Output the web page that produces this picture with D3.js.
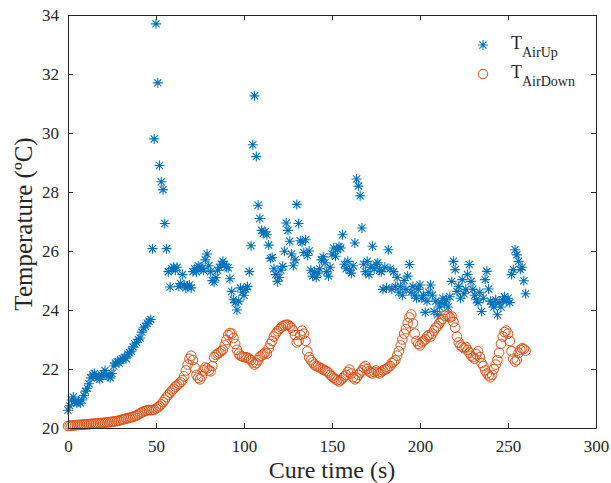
<!DOCTYPE html>
<html>
<head>
<meta charset="utf-8">
<script src="https://cdn.jsdelivr.net/npm/d3@7"></script>
<style>
body { margin: 0; background: #fff; }
svg { display: block; font-family: "Liberation Serif", "Times New Roman", serif; }
</style>
</head>
<body>
<svg id="chart" width="611" height="483"></svg>
<script>
const width = 611;
const height = 483;

const BLUE = "#0072BD";
const ORANGE = "#D95319";
const AXIS = "#262626";

// cure time axis, logged at 1 Hz
const cureTime = d3.range(0, 261);

// T_AirUp (star markers)
const airUp = [
    20.60, 20.75, 20.95, 21.05, 20.90, 20.85, 20.90, 20.85, 20.95, 21.10,
    21.25, 21.35, 21.50, 21.70, 21.80, 21.85, 21.75, 21.70, 21.65, 21.80,
    21.85, 21.95, 21.80, 21.75, 21.70, 21.85, 22.10, 22.20, 22.25, 22.20,
    22.30, 22.35, 22.40, 22.35, 22.50, 22.55, 22.60, 22.75, 22.85, 22.90,
    23.00, 23.05, 23.25, 23.40, 23.45, 23.55, 23.62, 23.68, 26.08, 29.80,
    33.70, 31.70, 28.90, 28.35, 28.08, 26.93, 26.08, 25.30, 24.78, 25.40,
    25.45, 25.35, 25.45, 24.80, 24.90, 25.20, 24.85, 24.75, 24.80, 24.85,
    24.75, 25.30, 25.40, 25.30, 25.50, 25.45, 25.40, 25.35, 25.70, 25.90,
    25.50, 25.30, 25.00, 24.95, 25.10, 25.35, 25.45, 25.55, 25.65, 25.55,
    25.45, 25.43, 25.06, 24.63, 24.35, 24.25, 24.00, 24.30, 24.75, 24.60,
    24.50, 24.70, 24.80, 25.30, 26.18, 29.60, 31.26, 29.20, 27.55, 27.10,
    26.70, 26.60, 26.65, 26.55, 26.20, 25.75, 25.78, 25.40, 25.20, 24.97,
    25.10, 25.35, 25.48, 25.99, 26.95, 26.70, 26.33, 25.90, 25.50, 25.70,
    27.58, 26.93, 26.35, 26.30, 25.95, 26.38, 25.85, 26.00, 25.35, 25.15,
    25.30, 25.10, 25.25, 25.40, 25.70, 25.80, 25.60, 25.30, 25.15, 25.45,
    25.90, 26.10, 25.82, 26.05, 26.15, 26.10, 26.55, 25.55, 25.40, 25.65,
    25.35, 25.25, 25.50, 26.27, 28.44, 28.20, 27.87, 26.78, 25.55, 25.30,
    25.65, 25.20, 25.45, 26.16, 25.40, 25.55, 25.60, 25.35, 25.30, 24.70,
    25.45, 24.75, 26.04, 25.40, 24.70, 25.30, 24.80, 25.10, 24.60, 24.80,
    24.50, 25.00, 24.70, 25.15, 25.54, 24.60, 24.80, 24.50, 24.40, 24.70,
    24.85, 24.40, 24.50, 23.92, 24.30, 24.60, 24.85, 24.50, 23.95, 24.30,
    23.84, 24.10, 24.25, 24.40, 24.20, 24.35, 24.10, 24.45, 24.97, 25.65,
    25.37, 24.63, 24.80, 24.40, 25.03, 24.55, 24.70, 25.20, 25.54, 24.97,
    24.70, 24.50, 24.35, 24.25, 24.60, 23.95, 24.40, 25.03, 25.31, 24.71,
    24.30, 24.20, 24.10, 24.35, 23.84, 24.25, 24.10, 24.35, 24.45, 24.30,
    24.40, 24.25, 25.20, 25.37, 26.04, 25.87, 25.65, 25.37, 25.45, 24.99,
    24.55
];

// T_AirDown (circle markers)
const airDown = [
    20.07, 20.08, 20.08, 20.09, 20.09, 20.10, 20.10, 20.11, 20.11, 20.12, 20.12,
    20.13, 20.13, 20.14, 20.14, 20.15, 20.15, 20.16, 20.16, 20.17, 20.17,
    20.18, 20.19, 20.20, 20.20, 20.21, 20.22, 20.23, 20.24, 20.25, 20.27,
    20.29, 20.30, 20.32, 20.33, 20.35, 20.36, 20.38, 20.40, 20.43, 20.46,
    20.50, 20.53, 20.56, 20.58, 20.60, 20.61, 20.60, 20.61, 20.62, 20.66,
    20.70, 20.74, 20.80, 20.88, 20.96, 21.05, 21.12, 21.20, 21.27, 21.33,
    21.40, 21.45, 21.50, 21.55, 21.62, 21.75, 21.95, 22.15, 22.35, 22.45,
    22.30, 22.05, 21.80, 21.70, 21.65, 21.75, 21.95, 22.05, 22.02, 21.95,
    21.92, 22.10, 22.40, 22.48, 22.52, 22.55, 22.60, 22.65, 22.80, 22.98,
    23.15, 23.22, 23.20, 23.05, 22.85, 22.65, 22.52, 22.45, 22.42, 22.40,
    22.40, 22.38, 22.35, 22.30, 22.22, 22.15, 22.20, 22.30, 22.42, 22.45,
    22.50, 22.55, 22.52, 22.70, 22.85, 22.95, 23.10, 23.20, 23.28, 23.35,
    23.40, 23.45, 23.48, 23.50, 23.50, 23.45, 23.40, 23.30, 23.15, 22.90,
    22.95, 23.15, 23.30, 23.20, 22.95, 22.60, 22.40, 22.30, 22.22, 22.15,
    22.10, 22.08, 22.05, 22.02, 21.98, 21.95, 21.92, 21.88, 21.80, 21.75,
    21.70, 21.65, 21.62, 21.58, 21.62, 21.68, 21.75, 21.80, 21.90, 21.98,
    21.85, 21.72, 21.65, 21.70, 21.80, 21.88, 21.95, 22.05, 22.10, 22.00,
    21.92, 21.88, 21.85, 21.90, 21.95, 21.88, 21.85, 21.90, 21.95, 21.98,
    22.00, 22.05, 22.10, 22.20, 22.25, 22.30, 22.45, 22.60, 22.80, 23.00,
    23.20, 23.35, 23.55, 23.75, 23.85, 23.55, 23.20, 22.95, 22.85, 22.80,
    22.90, 22.95, 23.00, 23.10, 23.15, 23.10, 23.20, 23.30, 23.40, 23.45,
    23.55, 23.65, 23.70, 23.80, 23.85, 23.80, 23.75, 23.78, 23.60, 23.40,
    23.10, 22.90, 22.80, 22.75, 22.70, 22.75, 22.65, 22.55, 22.45, 22.40,
    22.35, 22.50, 22.60, 22.40, 22.20, 22.10, 21.95, 21.85, 21.78, 21.72,
    21.80, 22.00, 22.15, 22.30, 22.55, 22.85, 23.10, 23.25, 23.30, 23.20,
    22.95, 22.60, 22.35, 22.25, 22.30, 22.55, 22.65, 22.70, 22.68, 22.62
];

const xTicks = [0, 50, 100, 150, 200, 250, 300];
const yTicks = [20, 22, 24, 26, 28, 30, 32, 34];
const legendLabels = ["AirUp", "AirDown"];

const svg = d3.select("#chart");

const x = d3.scaleLinear().domain([0, 300]).range([68, 596]);
const y = d3.scaleLinear().domain([20, 34]).range([428, 15]);

// star marker like matlab '*': a plus and an x on top of each other
function starPath(cx, cy, r) {
    const d = r * 0.72;
    return `M${cx - r},${cy}L${cx + r},${cy}M${cx},${cy - r}L${cx},${cy + r}` +
        `M${cx - d},${cy - d}L${cx + d},${cy + d}M${cx - d},${cy + d}L${cx + d},${cy - d}`;
}

// Draw the data
const upData = cureTime.map((t, i) => [t, airUp[i]]);
const downData = cureTime.map((t, i) => [t, airDown[i]]);

svg.append("g")
    .selectAll("path")
    .data(upData)
    .join("path")
    .attr("d", d => starPath(x(d[0]), y(d[1]), 5))
    .attr("stroke", BLUE)
    .attr("stroke-width", 1.1)
    .attr("fill", "none");

svg.append("g")
    .selectAll("circle")
    .data(downData)
    .join("circle")
    .attr("cx", d => x(d[0]))
    .attr("cy", d => y(d[1]))
    .attr("r", 4.8)
    .attr("stroke", ORANGE)
    .attr("stroke-width", 1)
    .attr("fill", "none");

// Axes, ticks pointing inwards on all four sides
function styleAxis(g) {
    g.selectAll("path, line").attr("stroke", AXIS).attr("stroke-width", 1);
    g.selectAll("text").attr("fill", AXIS).attr("font-size", 17)
        .attr("font-family", "Liberation Serif, Times New Roman, serif");
}

svg.append("g")
    .attr("transform", "translate(0,428)")
    .call(d3.axisBottom(x).tickValues(xTicks).tickSizeInner(-5).tickSizeOuter(0).tickPadding(12))
    .call(styleAxis);

svg.append("g")
    .attr("transform", "translate(0,15)")
    .call(d3.axisTop(x).tickValues(xTicks).tickSizeInner(-5).tickSizeOuter(0).tickFormat(""))
    .call(styleAxis);

svg.append("g")
    .attr("transform", "translate(68,0)")
    .call(d3.axisLeft(y).tickValues(yTicks).tickSizeInner(-5).tickSizeOuter(0).tickPadding(9))
    .call(styleAxis);

svg.append("g")
    .attr("transform", "translate(596,0)")
    .call(d3.axisRight(y).tickValues(yTicks).tickSizeInner(-5).tickSizeOuter(0).tickFormat(""))
    .call(styleAxis);

// Axis titles
svg.append("text")
    .attr("x", 332)
    .attr("y", 478)
    .attr("text-anchor", "middle")
    .attr("font-size", 24)
    .attr("fill", AXIS)
    .text("Cure time (s)");

svg.append("text")
    .attr("transform", "translate(32,224) rotate(-90)")
    .attr("text-anchor", "middle")
    .attr("font-size", 25)
    .attr("fill", AXIS)
    .text("Temperature (ºC)");

// Legend (no box)
const legend = svg.append("g");
const legendY = [45, 74];

legend.append("path")
    .attr("d", starPath(483, legendY[0], 5))
    .attr("stroke", BLUE)
    .attr("stroke-width", 1.1)
    .attr("fill", "none");

legend.append("circle")
    .attr("cx", 483)
    .attr("cy", legendY[1])
    .attr("r", 4.8)
    .attr("stroke", ORANGE)
    .attr("stroke-width", 1)
    .attr("fill", "none");

legendLabels.forEach((lab, i) => {
    const t = legend.append("text")
        .attr("x", 511)
        .attr("y", legendY[i] + 3.5)
        .attr("fill", AXIS)
        .attr("font-size", 18);
    t.append("tspan").text("T");
    t.append("tspan")
        .attr("font-size", 14)
        .attr("dy", 8)
        .text(lab);
});
</script>
</body>
</html>
